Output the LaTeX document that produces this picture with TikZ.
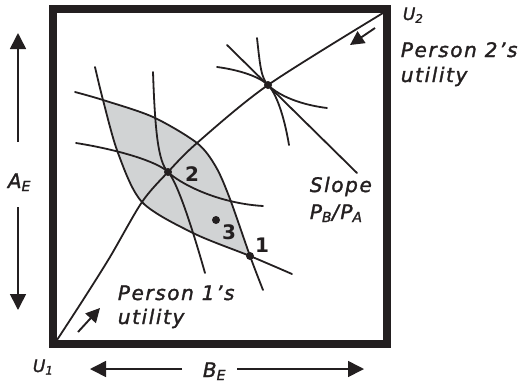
\documentclass[tikz,border=0pt]{standalone}
\usepackage{fontspec}
\setmainfont{DejaVu Sans}[LetterSpace=8, ItalicFeatures={FakeBold=1.6}]
\usetikzlibrary{arrows.meta}
\definecolor{ink}{RGB}{35,31,32}
\definecolor{lens}{RGB}{209,211,212}
\newcommand{\sublbl}[2]{\textit{#1}\textsubscript{\textit{#2}}}

\begin{document}
\begin{tikzpicture}[x=1pt, y=-1pt, line width=1.8pt, ink,
  curve/.style={line width=1.8pt, line cap=round},
  bigarrow/.style={line width=1.6pt, -{Triangle[length=16pt,width=16pt]}},
  smallarrow/.style={line width=1.9pt, -{Triangle[length=14pt,width=14pt]}},
  dot/.style={circle, fill=ink, inner sep=0pt, minimum size=8pt},
  num/.style={font=\fontsize{20}{24}\selectfont\bfseries, inner sep=0pt},
  txt/.style={font=\fontsize{20}{24}\selectfont\itshape, anchor=base west, inner sep=0pt},
  utxt/.style={font=\fontsize{17}{20}\selectfont\itshape, anchor=base west, inner sep=0pt}]
  \useasboundingbox (0,0) rectangle (527,384);
  \begin{scope}
    \clip plot[smooth] coordinates
      {(75,92) (103,100) (153,117) (197,143) (216,167) (230,199) (250,256) (263,290)}
      -- (263,384) -- (0,384) -- (0,92) -- cycle;
    \fill[lens] plot[smooth] coordinates
      {(95,67) (103,100) (118,153) (142,202) (193,233) (250,256) (292,274)}
      -- (527,274) -- (527,0) -- (95,0) -- cycle;
  \end{scope}
  \draw[curve] plot[smooth] coordinates
    {(75,92) (103,100) (153,117) (197,143) (216,167) (230,199) (250,256) (263,290)};
  \draw[curve] plot[smooth] coordinates
    {(95,67) (103,100) (118,153) (142,202) (193,233) (250,256) (292,274)};
  \draw[curve] plot[smooth] coordinates
    {(57,340) (83,300) (110,257) (142,202) (168,172) (197,143) (268,85) (383,13)};
  \draw[curve] (153,72) .. controls (155,130) and (158,162) .. (168,172)
    .. controls (178,182) and (215,203) .. (263,206);
  \draw[curve] (76,143) .. controls (120,150) and (158,162) .. (168,172)
    .. controls (176,180) and (190,220) .. (205,273);
  \draw[curve] (257,38) .. controls (260,65) and (261,78) .. (268,85)
    .. controls (276,93) and (295,104) .. (327,108);
  \draw[curve] (217,67) .. controls (240,70) and (260,77) .. (268,85)
    .. controls (276,93) and (284,115) .. (289,145);
  \coordinate (slopetop) at (227,45);
  \coordinate (slopeend) at (357,173);
  \draw[curve] (slopetop) -- (slopeend);

  \node[dot] (pt1) at (250,256) {};
  \node[dot] (pt2) at (168,172) {};
  \node[dot] (pt3) at (216,220) {};
  \node[dot] (ptS) at (268,85) {};
  \node[num] (n1) at (262,245) {1};
  \node[num] (n2) at (192,174) {2};
  \node[num] (n3) at (229,232) {3};

  \draw[line width=8pt] (53,9) rectangle (387,344);

  \coordinate (u2tail) at (375,28);
  \coordinate (u2tip) at (350,45);
  \draw[smallarrow] (u2tail) -- (u2tip);
  \coordinate (u1tail) at (78,332);
  \coordinate (u1tip) at (100,308);
  \draw[smallarrow] (u1tail) -- (u1tip);

  \coordinate (aelow) at (18,142);
  \coordinate (aetop) at (18,33);
  \draw[bigarrow] (aelow) -- (aetop);
  \coordinate (aehigh) at (18,207);
  \coordinate (aebot) at (18,310);
  \draw[bigarrow] (aehigh) -- (aebot);
  \coordinate (beleft) at (182,369);
  \coordinate (beltip) at (90,369);
  \draw[bigarrow] (beleft) -- (beltip);
  \coordinate (beright) at (237,369);
  \coordinate (bertip) at (364,369);
  \draw[bigarrow] (beright) -- (bertip);

  \node[utxt] (U2) at (402,20) {\sublbl{U}{2}};
  \node[utxt] (U1) at (32,372) {\sublbl{U}{1}};
  \node[txt] (AE) at (7,188) {\sublbl{A}{E}};
  \node[txt] (BE) at (202,377) {\sublbl{B}{E}};
  \node[txt] (who2) at (400,57) {Person 2’s};
  \node[txt] (util2) at (400,82) {utility};
  \node[txt] (who1) at (117,300) {Person 1’s};
  \node[txt] (util1) at (117,324) {utility};
  \node[txt] (slope) at (309,192) {Slope};
  \node[txt] (ratio) at (309,219) {\sublbl{P}{B}\textit{/}\sublbl{P}{A}};
\end{tikzpicture}
\end{document}
